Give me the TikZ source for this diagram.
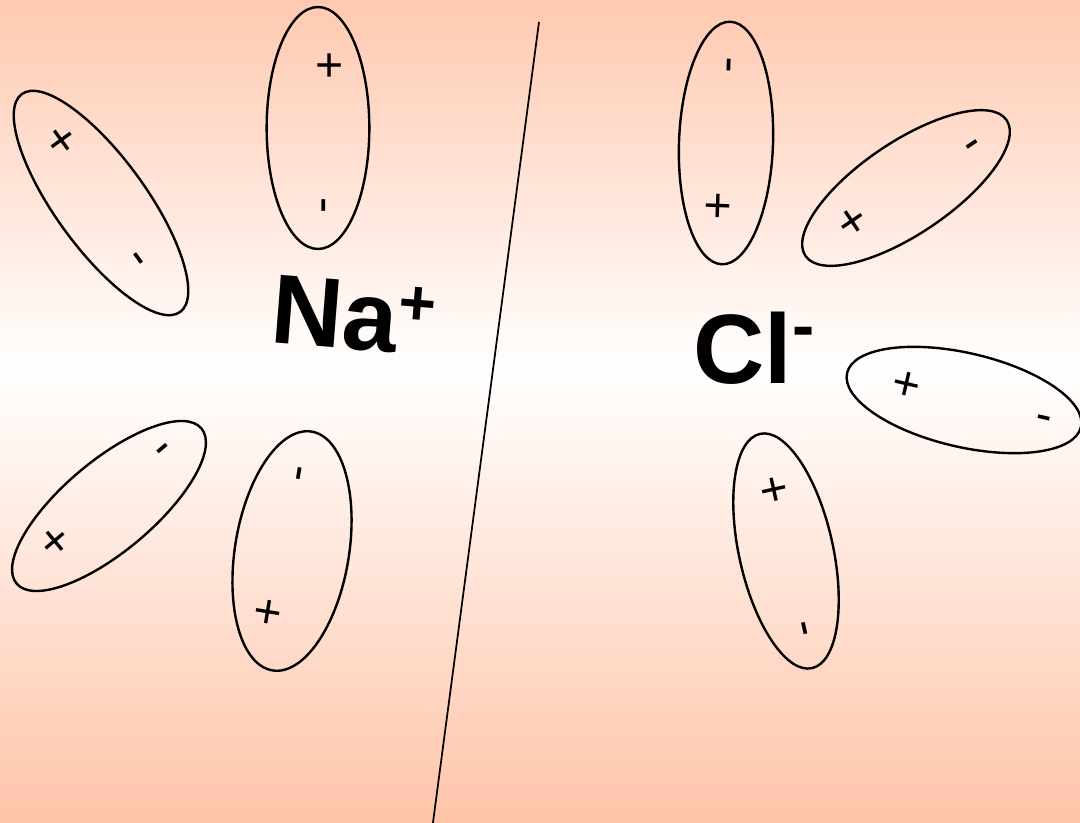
\documentclass[tikz,border=0pt]{standalone}
\usepackage{fontspec}
\setmainfont{Liberation Sans}
\usetikzlibrary{shapes.geometric}
\definecolor{peachtop}{RGB}{255,201,176}
\definecolor{peachbot}{RGB}{255,196,168}

\begin{document}
\begin{tikzpicture}[
  x=0.75pt, y=-0.75pt,
  dipole/.style={draw,ellipse,line width=1.8pt,inner sep=0},
  sgn/.style={inner sep=0,text depth=0pt,font=\fontsize{36}{40}\selectfont},
  poscharge/.style={sgn,text height=25.5pt},
  negcharge/.style={sgn,text height=19.7pt},
  ion/.style={inner sep=0,font=\fontsize{74}{80}\selectfont\bfseries},
  divider/.style={line width=1.3pt},
]
  \useasboundingbox (0,0) rectangle (1080,823);
  % background
  \shade[top color=peachtop,bottom color=white] (0,0) rectangle (1080,371);
  \shade[top color=white,bottom color=peachbot] (0,370) rectangle (1080,823);

  % boundary
  \coordinate (top) at (539,22);
  \coordinate (bot) at (432,830);
  \draw[divider] (top) -- (bot);

  % ions
  \node[ion,rotate=-4.5] (na) at (354,316) {Na\raisebox{0.3em}{\fontsize{48}{50}\selectfont +}};
  \node[ion] (cl) at (754,348) {Cl\raisebox{0.35em}{\fontsize{50}{52}\selectfont -}};

  % water dipoles round Na+
  \node[dipole,minimum width=181.5pt,minimum height=77pt,rotate=90] (dA) at (318,128) {};
  \node[poscharge,rotate=90] (pA) at (328,65) {+};
  \node[negcharge,rotate=90] (mA) at (323,206) {-};

  \node[dipole,minimum width=202pt,minimum height=68pt,rotate=-54] (dB) at (101,203) {};
  \node[poscharge,rotate=-54] (pB) at (62,140) {+};
  \node[negcharge,rotate=-54] (mB) at (139,258) {-};

  \node[dipole,minimum width=181pt,minimum height=68pt,rotate=40] (dC) at (109,506) {};
  \node[poscharge,rotate=40] (pC) at (54,540) {+};
  \node[negcharge,rotate=40] (mC) at (162,448) {-};

  \node[dipole,minimum width=181.5pt,minimum height=85.5pt,rotate=80.7] (dD) at (292,551) {};
  \node[poscharge,rotate=80.7] (pD) at (267,612) {+};
  \node[negcharge,rotate=80.7] (mD) at (299,473) {-};

  % water dipoles round Cl-
  \node[dipole,minimum width=182pt,minimum height=70.5pt,rotate=88] (dE) at (726,143) {};
  \node[negcharge,rotate=88] (mE) at (729,65) {-};
  \node[poscharge,rotate=88] (pE) at (717,206) {+};

  \node[dipole,minimum width=182pt,minimum height=69pt,rotate=34] (dF) at (906,188) {};
  \node[poscharge,rotate=34] (pF) at (852,221) {+};
  \node[negcharge,rotate=34] (mF) at (972,144) {-};

  \node[dipole,minimum width=180pt,minimum height=70.5pt,rotate=-13] (dG) at (964,400) {};
  \node[poscharge,rotate=-13] (pG) at (907,383) {+};
  \node[negcharge,rotate=-13] (mG) at (1044,417) {-};

  \node[dipole,minimum width=180pt,minimum height=70.5pt,rotate=-77.5] (dH) at (786,551) {};
  \node[poscharge,rotate=-77.5] (pH) at (775,489) {+};
  \node[negcharge,rotate=-77.5] (mH) at (805,628) {-};
\end{tikzpicture}
\end{document}
